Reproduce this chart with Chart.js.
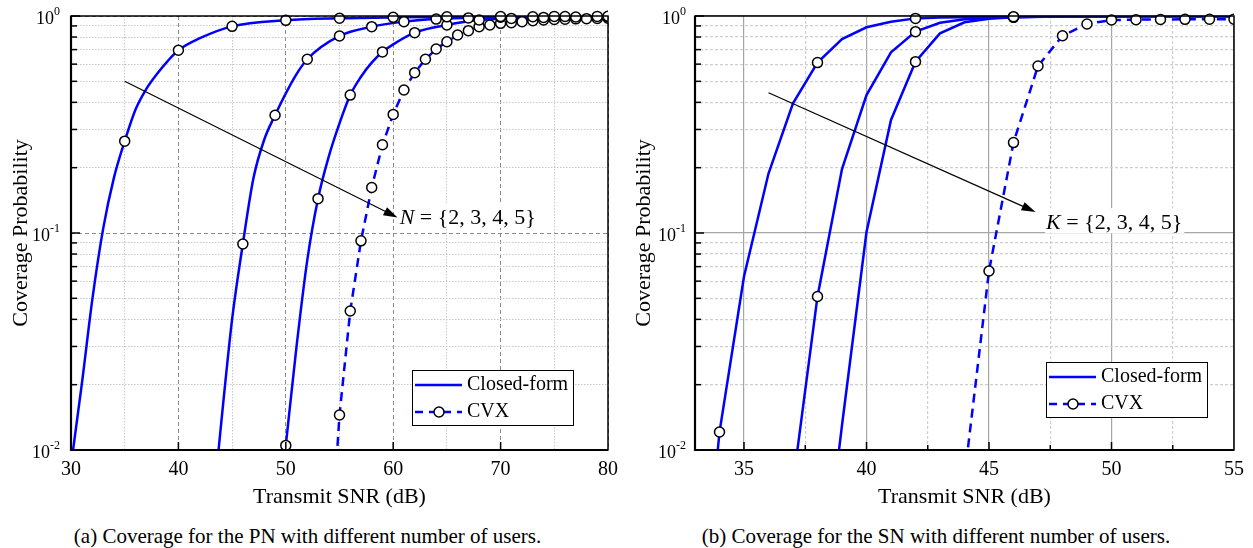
<!DOCTYPE html>
<html>
<head>
<meta charset="utf-8">
<script src="https://cdn.jsdelivr.net/npm/chart.js@4.4.0/dist/chart.umd.min.js"></script>
<style>
  body { margin: 0; background: #fff; }
  #fig { position: relative; width: 1253px; height: 548px; font-family: 'Liberation Serif', serif; }
  canvas { position: absolute; top: 0; }
  .cap { position: absolute; top: 524px; font-size: 21px; line-height: 24px; text-align: center; white-space: nowrap; }
</style>
</head>
<body>
<div id="fig">
  <canvas id="pn" width="626" height="512" style="left:0"></canvas>
  <canvas id="sn" width="627" height="512" style="left:626px"></canvas>
  <div class="cap" style="left:0;width:615px">(a) Coverage for the PN with different number of users.</div>
  <div class="cap" style="left:626px;width:620px">(b) Coverage for the SN with different number of users.</div>
</div>
<script>
// (a) PN: coverage probability vs transmit SNR, N = 2..5
const pnClosedX2 = [30, 31, 32, 33, 34, 35, 36, 37, 38, 39, 40, 42, 45, 50, 55, 60, 65, 70, 75, 80];
const pnClosedY2 = [0.0085, 0.02, 0.05, 0.105, 0.18, 0.265, 0.37, 0.46, 0.54, 0.62, 0.695, 0.79, 0.896, 0.955, 0.976, 0.986, 0.991, 0.994, 0.996, 0.997];
const pnClosedX3 = [43.6, 44, 45, 46, 47, 48, 49, 50, 51, 52, 55, 58, 61, 64, 67, 70, 75, 80];
const pnClosedY3 = [0.0085, 0.0135, 0.04, 0.089, 0.18, 0.27, 0.349, 0.44, 0.54, 0.632, 0.809, 0.893, 0.942, 0.968, 0.98, 0.988, 0.994, 0.997];
const pnClosedX4 = [49.8, 50, 51, 52, 53, 54, 55, 56, 57, 58, 59, 60, 62, 65, 68, 71, 74, 77, 80];
const pnClosedY4 = [0.0085, 0.0105, 0.03, 0.075, 0.144, 0.225, 0.32, 0.432, 0.525, 0.61, 0.683, 0.74, 0.838, 0.909, 0.958, 0.975, 0.985, 0.99, 0.994];

const pnCvxX2 = [35, 40, 45, 50, 55, 60, 65, 70, 75, 80];
const pnCvxY2 = [0.265, 0.695, 0.896, 0.955, 0.976, 0.986, 0.991, 0.994, 0.996, 0.997];
const pnCvxX3 = [46, 49, 52, 55, 58, 61, 64, 67, 70, 73, 76, 79];
const pnCvxY3 = [0.089, 0.349, 0.632, 0.809, 0.893, 0.942, 0.968, 0.98, 0.988, 0.992, 0.995, 0.996];
const pnCvxX4 = [50, 53, 56, 59, 62, 65, 68, 71, 74, 77, 80];
const pnCvxY4 = [0.0105, 0.144, 0.432, 0.683, 0.838, 0.909, 0.958, 0.975, 0.985, 0.99, 0.994];
const pnCvxX5 = [54, 55, 56, 57, 58, 59, 60, 61, 62, 63, 64, 65, 66, 67, 68, 69, 70, 71, 72, 73, 74, 75, 76, 77, 78, 79, 80];
const pnCvxY5 = [0.0025, 0.0145, 0.0437, 0.092, 0.162, 0.255, 0.352, 0.456, 0.548, 0.632, 0.705, 0.761, 0.817, 0.856, 0.893, 0.909, 0.925, 0.932, 0.942, 0.951, 0.958, 0.964, 0.967, 0.97, 0.972, 0.974, 0.976];

// (b) SN: coverage probability vs transmit SNR, K = 2..5
const snClosedX2 = [33, 34, 35, 36, 37, 38, 39, 40, 41, 42, 43, 44, 45, 46, 48, 50, 52, 55];
const snClosedY2 = [0.0008, 0.0121, 0.063, 0.188, 0.396, 0.61, 0.783, 0.887, 0.94, 0.975, 0.983, 0.988, 0.991, 0.993, 0.996, 0.998, 0.998, 0.998];
const snClosedX3 = [36, 37, 38, 39, 40, 41, 42, 43, 44, 45, 46, 48, 50, 52, 55];
const snClosedY3 = [0.0008, 0.007, 0.051, 0.197, 0.432, 0.68, 0.847, 0.931, 0.965, 0.98, 0.988, 0.994, 0.996, 0.997, 0.998];
const snClosedX4 = [38, 39, 40, 41, 42, 43, 44, 45, 46, 47, 48, 50, 52, 55];
const snClosedY4 = [0.0015, 0.013, 0.101, 0.332, 0.616, 0.832, 0.935, 0.972, 0.986, 0.992, 0.995, 0.997, 0.998, 0.998];

const snCvxX2 = [34, 38, 42, 46];
const snCvxY2 = [0.0121, 0.61, 0.975, 0.993];
const snCvxX3 = [38, 42, 46];
const snCvxY3 = [0.051, 0.847, 0.988];
const snCvxX4 = [42, 46];
const snCvxY4 = [0.616, 0.986];
const snCvxX5 = [44, 45, 46, 47, 48, 49, 50, 51, 52, 53, 54, 55];
const snCvxY5 = [0.0075, 0.0668, 0.261, 0.588, 0.811, 0.919, 0.958, 0.962, 0.964, 0.965, 0.966, 0.967];

// axes
const pnXTicks = [30, 35, 40, 45, 50, 55, 60, 65, 70, 75, 80];
const snXTicks = [35, 37.5, 40, 42.5, 45, 47.5, 50, 52.5, 55];
const yTicks = [0.01, 0.02, 0.03, 0.04, 0.05, 0.06, 0.07, 0.08, 0.09, 0.1, 0.2, 0.3, 0.4, 0.5, 0.6, 0.7, 0.8, 0.9, 1];
const legendNames = ['Closed-form', 'CVX'];

const BLUE = '#0000ff';
const SERIF = "'Liberation Serif', 'Times New Roman', serif";
Chart.defaults.font.family = SERIF;
Chart.defaults.color = '#000';

function pts(xs, ys) {
  return xs.map((x, i) => ({ x: x, y: ys[i] }));
}

function isPow10(v) {
  const l = Math.log10(v);
  return Math.abs(l - Math.round(l)) < 1e-9;
}

function closed(xs, ys, smooth) {
  return {
    data: pts(xs, ys), borderColor: BLUE, borderWidth: 2.5, pointRadius: 0,
    cubicInterpolationMode: smooth ? 'monotone' : 'default', tension: 0, order: 2
  };
}

function cvx(xs, ys, line) {
  return {
    data: pts(xs, ys), showLine: line, borderColor: BLUE, borderWidth: 2.5, borderDash: [9, 6],
    pointRadius: 5, pointBorderWidth: 1.5, pointBorderColor: '#000', pointBackgroundColor: '#fff',
    clip: { left: 0, right: 0, top: 8, bottom: 0 }, order: 1
  };
}

// frame, inward ticks, y labels with exponents, arrow annotation and legend box
const decor = {
  id: 'decor',
  afterDraw(chart, args, o) {
    const { ctx, chartArea: a } = chart;
    const xs = chart.scales.x, ys = chart.scales.y;
    ctx.save();

    ctx.strokeStyle = '#000';
    ctx.lineWidth = 1.5;
    xs.ticks.forEach(t => {
      if (t.value <= xs.min || t.value >= xs.max) return;
      const major = Math.abs(t.value / o.xMajor - Math.round(t.value / o.xMajor)) < 1e-6;
      if (!major && !o.xMinorTicks) return;
      const px = xs.getPixelForValue(t.value);
      ctx.beginPath(); ctx.moveTo(px, a.bottom); ctx.lineTo(px, a.bottom - (major ? 8 : 5)); ctx.stroke();
    });
    ys.ticks.forEach(t => {
      const py = ys.getPixelForValue(t.value);
      ctx.beginPath(); ctx.moveTo(a.left, py); ctx.lineTo(a.left + (isPow10(t.value) ? 9 : 6), py); ctx.stroke();
    });

    ctx.lineWidth = 1.5;
    ctx.strokeRect(a.left, a.top, a.right - a.left, a.bottom - a.top);
    ctx.lineWidth = 2.2;
    ctx.beginPath(); ctx.moveTo(a.left, a.top); ctx.lineTo(a.left, a.bottom); ctx.lineTo(a.right, a.bottom); ctx.stroke();

    // y tick labels 10^n
    ctx.fillStyle = '#000';
    ctx.textBaseline = 'middle';
    ys.ticks.filter(t => isPow10(t.value)).forEach(t => {
      const py = ys.getPixelForValue(t.value);
      const e = String(Math.round(Math.log10(t.value)));
      ctx.font = '12px ' + SERIF;
      const we = ctx.measureText(e).width;
      ctx.font = '18px ' + SERIF;
      const wb = ctx.measureText('10').width;
      const right = a.left - o.yLabelGap;
      ctx.textAlign = 'left';
      ctx.fillText('10', right - we - wb, py + 3);
      ctx.font = '12px ' + SERIF;
      ctx.fillText(e, right - we, py - 4);
    });

    // arrow annotation
    const n = o.note;
    const x0 = xs.getPixelForValue(n.from[0]), y0 = ys.getPixelForValue(n.from[1]);
    const x1 = xs.getPixelForValue(n.to[0]), y1 = ys.getPixelForValue(n.to[1]);
    const ang = Math.atan2(y1 - y0, x1 - x0);
    ctx.lineWidth = 1.2;
    ctx.beginPath(); ctx.moveTo(x0, y0); ctx.lineTo(x1 - 10 * Math.cos(ang), y1 - 10 * Math.sin(ang)); ctx.stroke();
    ctx.beginPath();
    ctx.moveTo(x1, y1);
    ctx.lineTo(x1 - 14 * Math.cos(ang) + 4.5 * Math.sin(ang), y1 - 14 * Math.sin(ang) - 4.5 * Math.cos(ang));
    ctx.lineTo(x1 - 14 * Math.cos(ang) - 4.5 * Math.sin(ang), y1 - 14 * Math.sin(ang) + 4.5 * Math.cos(ang));
    ctx.closePath(); ctx.fill();

    const tx = xs.getPixelForValue(n.at[0]), ty = ys.getPixelForValue(n.at[1]);
    ctx.font = 'italic 22px ' + SERIF;
    const w1 = ctx.measureText(n.sym).width;
    ctx.font = '22px ' + SERIF;
    const w2 = ctx.measureText(n.rest).width;
    ctx.fillStyle = '#fff';
    ctx.fillRect(tx - 1, ty - 15, w1 + w2 + 3, 25);
    ctx.fillStyle = '#000';
    ctx.textAlign = 'left';
    ctx.font = 'italic 22px ' + SERIF;
    ctx.fillText(n.sym, tx, ty);
    ctx.font = '22px ' + SERIF;
    ctx.fillText(n.rest, tx + w1, ty);

    // legend
    const L = o.legend;
    const bx = a.right - L.right - 161, by = a.bottom - L.bottom - 55;
    ctx.fillStyle = '#fff';
    ctx.fillRect(bx, by, 161, 55);
    ctx.strokeStyle = '#000'; ctx.lineWidth = 1;
    ctx.strokeRect(bx + 0.5, by + 0.5, 161, 55);
    ctx.strokeStyle = BLUE; ctx.lineWidth = 2.5;
    ctx.beginPath(); ctx.moveTo(bx + 3, by + 15); ctx.lineTo(bx + 50, by + 15); ctx.stroke();
    ctx.setLineDash([8, 6]);
    ctx.beginPath(); ctx.moveTo(bx + 3, by + 42); ctx.lineTo(bx + 50, by + 42); ctx.stroke();
    ctx.setLineDash([]);
    ctx.beginPath(); ctx.arc(bx + 27, by + 42, 5, 0, Math.PI * 2);
    ctx.fillStyle = '#fff'; ctx.fill();
    ctx.strokeStyle = '#000'; ctx.lineWidth = 1.5; ctx.stroke();
    ctx.fillStyle = '#000';
    ctx.font = '20px ' + SERIF;
    ctx.fillText(legendNames[0], bx + 55, by + 15);
    ctx.fillText(legendNames[1], bx + 55, by + 42);

    ctx.restore();
  }
};

function makeChart(id, cfg) {
  const majorOf = v => Math.abs(v / cfg.xMajor - Math.round(v / cfg.xMajor)) < 1e-6;
  return new Chart(document.getElementById(id), {
    type: 'line',
    data: { datasets: cfg.datasets },
    options: {
      responsive: false, animation: false, events: [],
      layout: { padding: { top: 16, right: cfg.padRight, left: 0, bottom: 0 } },
      plugins: { legend: { display: false }, tooltip: { enabled: false }, decor: cfg.decor },
      scales: {
        x: {
          type: 'linear', min: cfg.xMin, max: cfg.xMax,
          afterBuildTicks: s => { s.ticks = cfg.xTicks.map(v => ({ value: v })); },
          afterFit: s => { s.height = 62; },
          ticks: { autoSkip: false, maxRotation: 0, padding: 8, font: { size: 20 },
                   callback: v => (majorOf(v) ? String(v) : '') },
          grid: { drawTicks: false, lineWidth: cfg.gridWidth,
                  color: c => (c.tick && majorOf(c.tick.value) ? cfg.majorColor : cfg.minorColor) },
          border: { display: false, dash: c => (c.tick && majorOf(c.tick.value) ? cfg.majorDash : cfg.minorDash) },
          title: { display: true, text: 'Transmit SNR (dB)', font: { size: 22 }, padding: { top: 0, bottom: 2 } }
        },
        y: {
          type: 'logarithmic', min: 0.01, max: 1,
          afterBuildTicks: s => { s.ticks = yTicks.map(v => ({ value: v, major: isPow10(v) })); },
          afterFit: s => { s.width = cfg.yWidth; },
          ticks: { display: false },
          grid: { drawTicks: false, lineWidth: cfg.gridWidth,
                  color: c => (c.tick && isPow10(c.tick.value) ? cfg.majorColor : cfg.minorColor) },
          border: { display: false, dash: c => (c.tick && isPow10(c.tick.value) ? cfg.majorDash : cfg.minorDash) },
          title: { display: true, text: 'Coverage Probability', font: { size: 22 }, padding: { top: cfg.yTitlePad, bottom: 0 } }
        }
      }
    },
    plugins: [decor]
  });
}

makeChart('pn', {
  xMin: 30, xMax: 80, xTicks: pnXTicks, xMajor: 10, padRight: 17, yWidth: 71, yTitlePad: 8,
  gridWidth: 1, majorColor: '#8a8a8a', minorColor: '#c8c8c8', majorDash: [4, 3], minorDash: [1.5, 1.5],
  datasets: [
    closed(pnClosedX2, pnClosedY2, true),
    closed(pnClosedX3, pnClosedY3, true),
    closed(pnClosedX4, pnClosedY4, true),
    cvx(pnCvxX2, pnCvxY2, false),
    cvx(pnCvxX3, pnCvxY3, false),
    cvx(pnCvxX4, pnCvxY4, false),
    cvx(pnCvxX5, pnCvxY5, true)
  ],
  decor: {
    xMajor: 10, xMinorTicks: false, yLabelGap: 11,
    note: { from: [35, 0.5], to: [60.4, 0.118], at: [60.6, 0.117], sym: 'N', rest: ' = {2, 3, 4, 5}' },
    legend: { right: 35, bottom: 25 }
  }
});

makeChart('sn', {
  xMin: 33, xMax: 55, xTicks: snXTicks, xMajor: 5, padRight: 19, yWidth: 69, yTitlePad: 5,
  gridWidth: 1.2, majorColor: '#a6a6a6', minorColor: '#cfcfcf', majorDash: [], minorDash: [3, 2],
  datasets: [
    closed(snClosedX2, snClosedY2, false),
    closed(snClosedX3, snClosedY3, false),
    closed(snClosedX4, snClosedY4, false),
    cvx(snCvxX2, snCvxY2, false),
    cvx(snCvxX3, snCvxY3, false),
    cvx(snCvxX4, snCvxY4, false),
    cvx(snCvxX5, snCvxY5, true)
  ],
  decor: {
    xMajor: 5, xMinorTicks: true, yLabelGap: 9,
    note: { from: [36, 0.443], to: [46.9, 0.125], at: [47.33, 0.111], sym: 'K', rest: ' = {2, 3, 4, 5}' },
    legend: { right: 27, bottom: 33 }
  }
});
</script>
</body>
</html>
